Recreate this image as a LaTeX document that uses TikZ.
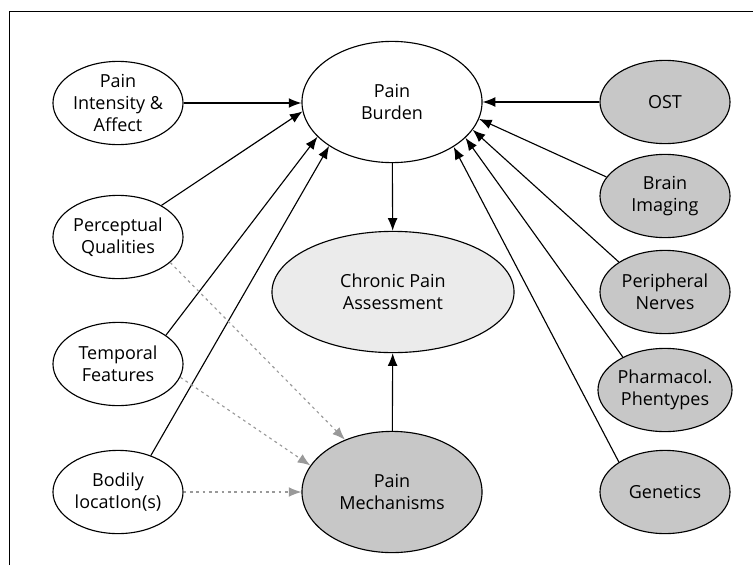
\documentclass[tikz,border=0pt]{standalone}
\usepackage{fontspec}
\setmainfont{Open Sans}
\usetikzlibrary{shapes.geometric,arrows.meta}

\begin{document}
\begin{tikzpicture}[x=0.025cm, y=-0.025cm,
    oval/.style={ellipse, draw, line width=0.8pt, inner sep=0pt, align=center,
      minimum width=3.25cm, minimum height=2.08cm,
      font=\fontsize{12.8}{15.6}\selectfont},
    big/.style={oval, minimum width=4.5cm, minimum height=3.03cm},
    marker/.style={oval, fill=markgray},
    link/.style={line width=0.8pt, -{Latex[length=9pt,width=7pt]}},
    hint/.style={line width=0.8pt, draw=dashgray, dash pattern=on 2pt off 2.5pt,
      -{Latex[length=9pt,width=7pt,fill=dashgray]}}]
    \definecolor{markgray}{gray}{0.78}
    \definecolor{assessgray}{gray}{0.92}
    \definecolor{dashgray}{gray}{0.6}
    \useasboundingbox (0,0) rectangle (753,565);
    \draw[line width=0.6pt] (9,565) -- (9,11) -- (753,11);

    % Nodes
    \node[oval] (intensity) at (118,103) {Pain\\Intensity \&\\Affect};
    \node[oval] (percept) at (118,237) {Perceptual\\Qualities};
    \node[oval] (temporal) at (118,364) {Temporal\\Features};
    \node[oval] (bodily) at (118,492) {Bodily\\locatIon(s)};
    \node[big] (burden) at (392,102) {Pain\\Burden};
    \node[big, minimum width=6.05cm, fill=assessgray] (assess) at (393,292) {Chronic Pain\\Assessment};
    \node[big, fill=markgray] (mech) at (392,492) {Pain\\Mechanisms};
    \node[marker] (ost) at (665,102) {OST};
    \node[marker] (brain) at (665,196) {Brain\\Imaging};
    \node[marker] (nerves) at (665,292) {Peripheral\\Nerves};
    \node[marker] (pharma) at (665,390) {Pharmacol.\\Phentypes};
    \node[marker] (genetics) at (665,492) {Genetics};

    % Edges
    \draw[link] (intensity) -- (burden.west |- intensity);
    \draw[link] (percept.36) -- (burden.186);
    \draw[link] (temporal.31) -- (burden.205);
    \draw[link] (bodily.48) -- (burden.215);
    \draw[link] (ost) -- (burden.east |- ost);
    \draw[link] (brain.162) -- (burden.349);
    \draw[link] (nerves.147) -- (burden.341);
    \draw[link] (pharma.142) -- (burden.334);
    \draw[link] (genetics.147) -- (burden.324);
    \draw[link] (burden) -- (assess);
    \draw[link] (mech) -- (assess);
    \draw[hint] (percept.334) -- (mech.132);
    \draw[hint] (temporal.348) -- (mech.162);
    \draw[hint] (bodily) -- (mech);
\end{tikzpicture}
\end{document}
